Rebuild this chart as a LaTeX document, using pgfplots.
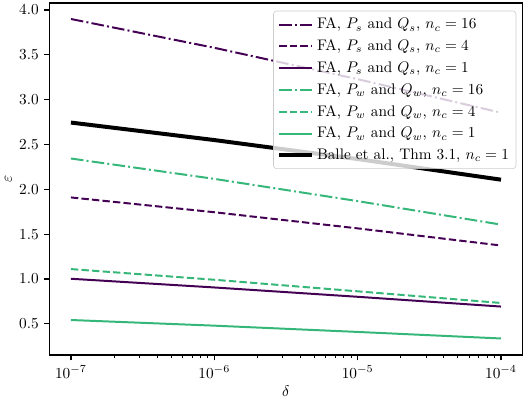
\documentclass[border=0pt]{standalone}
\usepackage{pgfplots}
\pgfplotsset{compat=1.18}

\definecolor{vpurple}{HTML}{440154}
\definecolor{vgreen}{HTML}{35B779}

\pgfplotsset{
  ddash/.style={dash pattern=on 8.2pt off 2.1pt on 1.3pt off 2.1pt},
  sdash/.style={dash pattern=on 4.8pt off 2.1pt},
}

\begin{document}
\begin{tikzpicture}
\begin{axis}[
    scale only axis,
    width=309pt, height=230pt,
    xmode=log,
    xmin=7.08e-8, xmax=1.41e-4,
    ymin=0.152, ymax=4.078,
    xtick={1e-7,1e-6,1e-5,1e-4},
    ytick={0.5,1.0,...,4.0},
    yticklabel style={/pgf/number format/.cd, fixed, fixed zerofill, precision=1},
    tick align=outside,
    tick pos=left,
    major tick length=3.5pt,
    minor tick length=2pt,
    axis line style={line width=0.8pt},
    every tick/.style={black, line width=0.8pt},
    minor tick style={line width=0.6pt},
    xlabel={$\delta$},
    ylabel={$\varepsilon$},
    xlabel style={yshift=2pt},
    ylabel style={yshift=-2pt},
    legend cell align=left,
    legend style={at={(1,1)}, anchor=north east, xshift=-4pt, yshift=-5pt,
        fill=white, fill opacity=0.8, text opacity=1, draw=black!20,
        rounded corners=2pt, row sep=1.6pt, inner sep=2.5pt},
    legend image code/.code={\draw[#1] (0cm,0cm) -- (0.75cm,0cm);},
]
\addplot[vpurple, line width=1.3pt, ddash] coordinates {(1e-7,3.90) (1e-6,3.579) (1e-5,3.229) (1e-4,2.855)};
\addlegendentry{FA, $P_s$ and $Q_s$, $n_c=16$}
\addplot[vpurple, line width=1.3pt, sdash] coordinates {(1e-7,1.91) (1e-6,1.745) (1e-5,1.565) (1e-4,1.374)};
\addlegendentry{FA, $P_s$ and $Q_s$, $n_c=4$}
\addplot[vpurple, line width=1.3pt] coordinates {(1e-7,1.003) (1e-6,0.906) (1e-5,0.802) (1e-4,0.693)};
\addlegendentry{FA, $P_s$ and $Q_s$, $n_c=1$}
\addplot[vgreen, line width=1.3pt, ddash] coordinates {(1e-7,2.344) (1e-6,2.117) (1e-5,1.869) (1e-4,1.607)};
\addlegendentry{FA, $P_w$ and $Q_w$, $n_c=16$}
\addplot[vgreen, line width=1.3pt, sdash] coordinates {(1e-7,1.111) (1e-6,0.992) (1e-5,0.863) (1e-4,0.733)};
\addlegendentry{FA, $P_w$ and $Q_w$, $n_c=4$}
\addplot[vgreen, line width=1.3pt] coordinates {(1e-7,0.543) (1e-6,0.480) (1e-5,0.410) (1e-4,0.337)};
\addlegendentry{FA, $P_w$ and $Q_w$, $n_c=1$}
\addplot[black, line width=2.6pt] coordinates {(1e-7,2.745) (1e-6,2.550) (1e-5,2.338) (1e-4,2.108)};
\addlegendentry{Balle et al., Thm 3.1, $n_c=1$}
\end{axis}
\end{tikzpicture}
\end{document}
